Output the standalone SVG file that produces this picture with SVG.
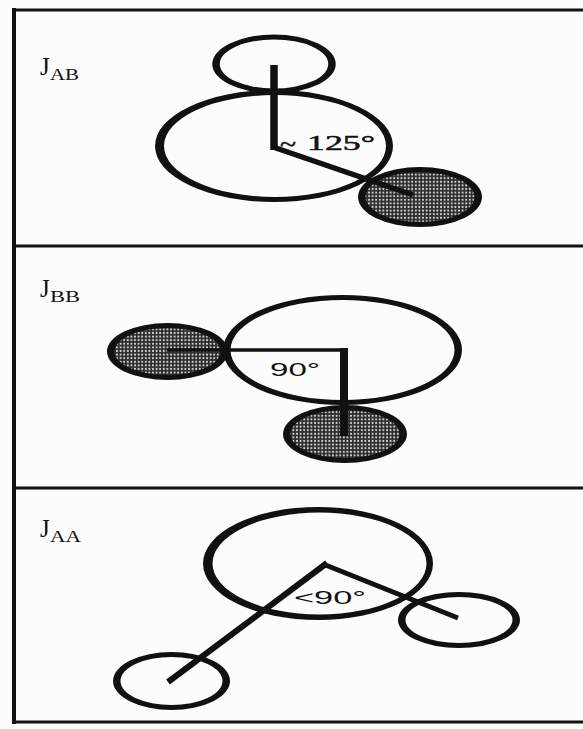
<svg xmlns="http://www.w3.org/2000/svg" width="583" height="729" viewBox="0 0 583 729">
<defs>
<pattern id="dots" width="3.6" height="3.6" patternUnits="userSpaceOnUse">
<rect width="3.6" height="3.6" fill="#2c2c2c"/>
<circle cx="1.8" cy="1.8" r="1.05" fill="#d8d8d8"/>
</pattern>
</defs>
<style>
.ring{fill:#111;fill-rule:evenodd}
.shade{fill:url(#dots)}
.frame{stroke:#111;stroke-width:3;fill:none}
.conn line{stroke:#111;stroke-linecap:butt}
.lbl{font-family:"Liberation Serif","Times New Roman",serif;fill:#111}
.num{font-family:"Liberation Serif","Times New Roman",serif;fill:#111;stroke:#111;stroke-width:0.5}
.ang{font-family:"Liberation Sans",Arial,sans-serif;fill:#111}
</style>
<rect width="583" height="729" fill="#fcfcfc"/>
<g id="frame">
<line class="frame" x1="12" y1="10" x2="583" y2="10"/>
<line class="frame" x1="12" y1="246" x2="583" y2="246"/>
<line class="frame" x1="12" y1="488" x2="583" y2="488"/>
<line class="frame" x1="12" y1="722" x2="583" y2="722"/>
<line class="frame" x1="14" y1="8" x2="14" y2="724" style="stroke-width:4"/>
</g>

<g id="panel-JAB">
<text class="lbl" x="40" y="75" font-size="25">J</text>
<text class="lbl" x="50" y="80" font-size="16" textLength="29" lengthAdjust="spacingAndGlyphs">AB</text>
<g id="jab-top">
<path class="ring" d="M212.25,64 a61.75,29.5 0 1 0 123.5,0 a61.75,29.5 0 1 0 -123.5,0 Z M219.75,64 a54.25,24.5 0 1 0 108.5,0 a54.25,24.5 0 1 0 -108.5,0 Z"/>
</g>
<g id="jab-center">
<path class="ring" d="M155,146 a119,56 0 1 0 238,0 a119,56 0 1 0 -238,0 Z M164,146 a111,51 0 1 0 222,0 a111,51 0 1 0 -222,0 Z"/>
</g>
<g id="jab-shaded">
<ellipse class="shade" cx="420" cy="197" rx="58" ry="27.5"/>
<path class="ring" d="M358,197 a62,30 0 1 0 124,0 a62,30 0 1 0 -124,0 Z M365.5,197 a54.5,25 0 1 0 109,0 a54.5,25 0 1 0 -109,0 Z"/>
</g>
<text class="num" x="280" y="152" font-size="24" textLength="16" lengthAdjust="spacingAndGlyphs">~</text>
<text class="num" x="307" y="150" font-size="21" textLength="68" lengthAdjust="spacingAndGlyphs">125°</text>
</g>

<g id="panel-JBB">
<text class="lbl" x="40" y="297" font-size="25">J</text>
<text class="lbl" x="50" y="302" font-size="16" textLength="30" lengthAdjust="spacingAndGlyphs">BB</text>
<g id="jbb-left">
<ellipse class="shade" cx="167.5" cy="351.5" rx="56" ry="26"/>
<path class="ring" d="M107,351.5 a60.5,28.5 0 1 0 121,0 a60.5,28.5 0 1 0 -121,0 Z M114.5,351.5 a53,23.5 0 1 0 106,0 a53,23.5 0 1 0 -106,0 Z"/>
</g>
<g id="jbb-center">
<path class="ring" d="M223,350 a119.5,55 0 1 0 239,0 a119.5,55 0 1 0 -239,0 Z M230.5,350 a112,50 0 1 0 224,0 a112,50 0 1 0 -224,0 Z"/>
</g>
<g id="jbb-bottom">
<ellipse class="shade" cx="345" cy="434" rx="58" ry="26.5"/>
<path class="ring" d="M283,434 a62,29 0 1 0 124,0 a62,29 0 1 0 -124,0 Z M290.5,434 a54.5,24 0 1 0 109,0 a54.5,24 0 1 0 -109,0 Z"/>
</g>
<text class="ang" x="270" y="376" font-size="19" textLength="50" lengthAdjust="spacingAndGlyphs">90°</text>
</g>

<g id="panel-JAA">
<text class="lbl" x="40" y="537" font-size="25">J</text>
<text class="lbl" x="50" y="542" font-size="16" textLength="31" lengthAdjust="spacingAndGlyphs">AA</text>
<g id="jaa-center">
<path class="ring" d="M203,563.5 a115,56.5 0 1 0 230,0 a115,56.5 0 1 0 -230,0 Z M212.5,563.5 a107,51 0 1 0 214,0 a107,51 0 1 0 -214,0 Z"/>
</g>
<g id="jaa-right">
<path class="ring" d="M398,620 a61,28 0 1 0 122,0 a61,28 0 1 0 -122,0 Z M405.5,620 a53.5,23 0 1 0 107,0 a53.5,23 0 1 0 -107,0 Z"/>
</g>
<g id="jaa-left">
<path class="ring" d="M113,681 a58.5,29 0 1 0 117,0 a58.5,29 0 1 0 -117,0 Z M120.5,681 a51,24 0 1 0 102,0 a51,24 0 1 0 -102,0 Z"/>
</g>
<text class="ang" x="294" y="604" font-size="19" textLength="72" lengthAdjust="spacingAndGlyphs">&lt;90°</text>
</g>

<g id="connectors" class="conn">
<line x1="274" y1="65" x2="274" y2="150" stroke-width="7.5"/>
<line x1="273" y1="147" x2="413" y2="195" stroke-width="5.5"/>
<line x1="167" y1="350" x2="348" y2="350" stroke-width="3.5"/>
<line x1="344" y1="348" x2="344" y2="436" stroke-width="8"/>
<line x1="168" y1="682" x2="327" y2="563" stroke-width="6"/>
<line x1="323" y1="564" x2="458" y2="618" stroke-width="5"/>
</g>
</svg>
